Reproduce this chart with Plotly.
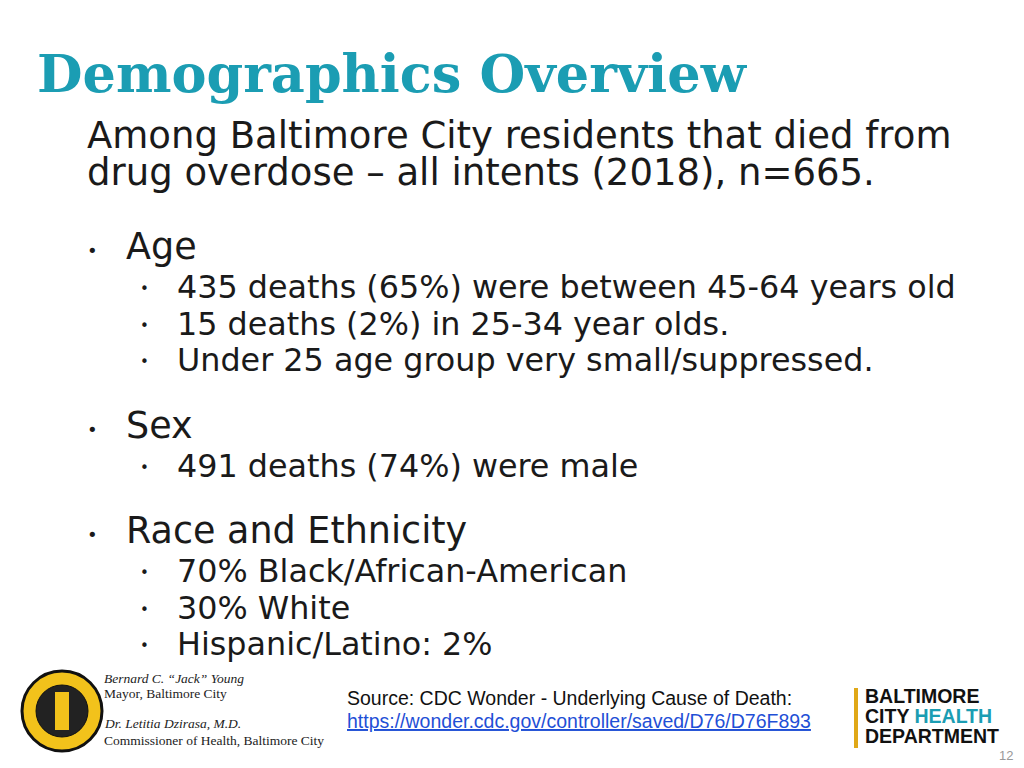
import plotly.graph_objects as go

# slide text content
title = "Demographics Overview"
intro_lines = ["Among Baltimore City residents that died from",
               "drug overdose \u2013 all intents (2018), n=665."]
sections = ["Age", "Sex", "Race and Ethnicity"]
section_items = [
    ["435 deaths (65%) were between 45-64 years old",
     "15 deaths (2%) in 25-34 year olds.",
     "Under 25 age group very small/suppressed."],
    ["491 deaths (74%) were male"],
    ["70% Black/African-American",
     "30% White",
     "Hispanic/Latino: 2%"],
]
section_y = [246, 425, 530]
item_y = [[286, 323, 359], [465], [570, 607, 643]]
footer_left = ["Bernard C. \u201cJack\u201d Young", "Mayor, Baltimore City",
               "Dr. Letitia Dzirasa, M.D.", "Commissioner of Health, Baltimore City"]
footer_left_y = [678, 693, 723, 740]
source_lines = ["Source: CDC Wonder - Underlying Cause of Death:",
                "https://wonder.cdc.gov/controller/saved/D76/D76F893"]
wordmark = ["BALTIMORE", "CITY ", "HEALTH", "DEPARTMENT"]
page_no = "12"

SANS = "DejaVu Sans"
TEAL = "#1b9db3"

fig = go.Figure()
ann = []


def txt(x, y, s, size, color="#1a1a1a", family=SANS, xanchor="left"):
    ann.append(dict(x=x, y=y, text=s, showarrow=False, xanchor=xanchor, yanchor="middle",
                    borderpad=0, font=dict(size=size, color=color, family=family)))


txt(36, 73, "<b>" + title + "</b>", 52.5, TEAL, "DejaVu Serif")
txt(86, 135, intro_lines[0], 37)
txt(86, 172, intro_lines[1], 37)

for name, sy, items, iys in zip(sections, section_y, section_items, item_y):
    txt(86, sy + 4, "\u2022", 18)
    txt(125, sy, name, 36.5)
    for it, iy in zip(items, iys):
        txt(139, iy + 3, "\u2022", 15)
        txt(176, iy, it, 31.8)

for i, (s, y) in enumerate(zip(footer_left, footer_left_y)):
    s2 = "<i>" + s + "</i>" if i in (0, 2) else s
    txt(103, y, s2, 13.5, "#222", "Liberation Serif")

txt(346, 698, source_lines[0], 19.5, "#111", "Liberation Sans")
txt(346, 721, "<u>" + source_lines[1] + "</u>", 19.5, "#1f4fd6", "Liberation Sans")

# health department wordmark
txt(864, 696, "<b>%s</b>" % wordmark[0], 19.5, "#111", "Liberation Sans")
txt(864, 716, "<b>%s<span style='color:%s'>%s</span></b>" % (wordmark[1], TEAL, wordmark[2]),
    19.5, "#111", "Liberation Sans")
txt(864, 736, "<b>%s</b>" % wordmark[3], 19.5, "#111", "Liberation Sans")
txt(1014, 755, page_no, 13, "#999", "Liberation Sans", xanchor="right")

shapes = [
    # city seal
    dict(type="circle", x0=22, x1=102, y0=671, y1=751, fillcolor="#f2c21b",
         line=dict(color="#111", width=3)),
    dict(type="circle", x0=36, x1=88, y0=685, y1=737, fillcolor="#222",
         line=dict(color="#111", width=1)),
    dict(type="rect", x0=55, x1=69, y0=692, y1=730, fillcolor="#f2c21b", line=dict(width=0)),
    # caduceus staff
    dict(type="line", x0=856, x1=856, y0=688, y1=748, line=dict(color="#e0a818", width=4)),
]

# the page body adds an 8px offset, so the axes are shifted to compensate
fig.update_layout(
    width=1024, height=768, margin=dict(l=0, r=0, t=0, b=0),
    paper_bgcolor="white", plot_bgcolor="white",
    xaxis=dict(range=[8, 1032], visible=False, fixedrange=True),
    yaxis=dict(range=[776, 8], visible=False, fixedrange=True),
    annotations=ann, shapes=shapes, showlegend=False,
)

fig.write_html("out.html")
